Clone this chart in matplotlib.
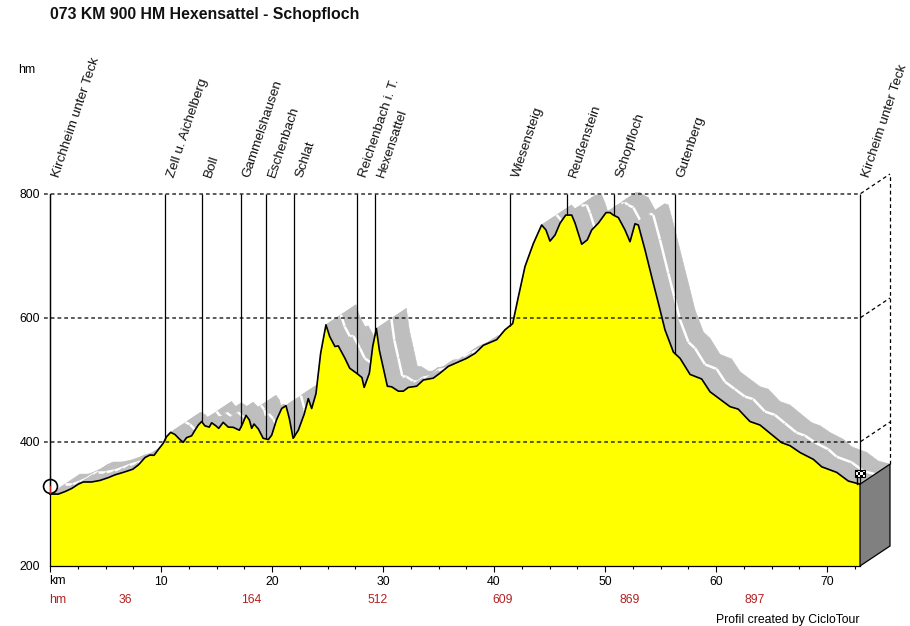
import numpy as np
import matplotlib
matplotlib.use('Agg')
import matplotlib.pyplot as plt
from matplotlib.patches import Polygon, Rectangle

plt.rcParams['font.family'] = ['Liberation Sans', 'DejaVu Sans']

# profile
km = [0.0, 0.75, 1.35, 1.95, 2.55, 3.0, 3.75, 4.5, 5.25, 5.85, 6.6, 7.45, 7.96, 8.56, 9.0, 9.37, 9.85, 10.2,
      10.5, 10.87, 11.26, 11.7, 12.0, 12.3, 12.76, 13.06, 13.36, 13.66, 13.96, 14.35, 14.56, 14.95, 15.2,
      15.6, 16.06, 16.5, 17.06, 17.36, 17.66, 17.96, 18.17, 18.38, 18.77, 19.2, 19.67, 19.97, 20.4, 20.87,
      21.26, 21.56, 21.9, 22.37, 22.9, 23.27, 23.57, 23.96, 24.38, 24.86, 25.2, 25.67, 25.97, 26.57, 27.0,
      27.69, 28.1, 28.3, 28.77, 29.07, 29.4, 29.67, 30.03, 30.39, 30.78, 31.38, 31.83, 32.28, 33.03, 33.63,
      34.53, 35.13, 35.88, 36.64, 37.54, 38.29, 39.04, 40.24, 40.99, 41.68, 42.19, 42.79, 43.54, 44.29,
      44.68, 45.04, 45.5, 45.95, 46.46, 47.0, 47.3, 47.9, 48.4, 48.8, 49.4, 50.09, 50.45, 50.75, 51.2, 51.8,
      52.25, 52.7, 53.0, 53.6, 54.35, 54.89, 55.4, 56.16, 56.76, 57.66, 58.71, 59.46, 60.36, 61.26, 62.0,
      63.06, 63.96, 64.87, 65.9, 66.67, 67.57, 68.77, 69.52, 70.87, 71.92, 72.97]
hm = [316, 316, 320, 325, 332, 335.5, 335.5, 338, 342.5, 347, 351, 356, 363, 375, 379, 378.5, 390, 398,
      408.6, 415.6, 412, 404, 399.5, 407, 410, 419, 427.4, 433, 426, 424, 431, 426, 422,
      431.7, 424, 423.7, 419, 430, 443, 435.5, 422, 429, 421, 406, 404, 411, 435.5, 454,
      458.6, 438, 406, 419, 445, 470, 454, 478, 543, 589, 570, 554, 555, 535, 519,
      510, 504, 488, 511, 554, 583, 548, 519, 490, 489, 482, 482, 488, 490, 500,
      503, 511, 522, 528, 535, 543, 556, 565, 581, 591, 634, 683, 720, 750,
      742, 724, 734, 753, 766, 766, 753, 719, 726, 742, 753, 770, 770, 766, 762, 742,
      723, 752, 750, 710, 656, 618, 581, 545, 535, 509, 501.6, 481, 469, 457, 453,
      433, 427.4, 414, 399, 394, 383, 372, 360, 351, 337, 332]

town_names = ['Kirchheim unter Teck', 'Zell u. Aichelberg', 'Boll', 'Gammelshausen', 'Eschenbach', 'Schlat',
              'Reichenbach i. T.', 'Hexensattel', 'Wiesensteig', 'Reußenstein', 'Schopfloch', 'Gutenberg',
              'Kircheim unter Teck']
town_km = [0, 10.36, 13.69, 17.2, 19.46, 21.98, 27.66, 29.28, 41.44, 46.58, 50.8, 56.3, 72.97]

climb_km = [6.8, 18.1, 29.5, 40.8, 52.2, 63.5]
climb_hm = ['36', '164', '512', '609', '869', '897']

grid_hm = [400, 600, 800]
y_ticks = [200, 400, 600, 800]
x_ticks = [0, 10, 20, 30, 40, 50, 60, 70]
x_tick_labels = ['', '10', '20', '30', '40', '50', '60', '70']

W, H = 910, 626
km = np.array(km)
hm = np.array(hm)
km_end = km[-1]

# depth of the fake 3d road, 30px right and 20px up
dx = 30 / 11.1
dy = 20 / 0.62

fig = plt.figure(figsize=(W / 100, H / 100), dpi=100)
ax = fig.add_axes([50 / W, (H - 566) / H, 810 / W, 372 / H])
ax.set_xlim(0, km_end)
ax.set_ylim(200, 800)

# road surface, painted from start to finish so later bits hide earlier ones
for i in range(len(km) - 1):
    quad = [(km[i], hm[i]), (km[i + 1], hm[i + 1]), (km[i + 1] + dx, hm[i + 1] + dy), (km[i] + dx, hm[i] + dy)]
    ax.add_patch(Polygon(quad, facecolor='#bebebe', edgecolor='#bebebe', lw=0.4, clip_on=False, zorder=1))
    ax.plot([km[i] + dx / 2, km[i + 1] + dx / 2], [hm[i] + dy / 2, hm[i + 1] + dy / 2],
            color='white', lw=1.8, clip_on=False, zorder=1, solid_capstyle='butt')

ax.fill_between(km, hm, 200, color='#ffff00', lw=0, zorder=2)

# dashed grid and its continuation on the back wall
for g in grid_hm:
    ax.plot([-6 / 11.1, km_end, km_end + dx], [g, g, g + dy], color='black', lw=0.9, ls=(0, (3, 2.4)),
            clip_on=False, zorder=3)
ax.plot([km_end + dx, km_end + dx], [hm[-1] + dy, 800 + dy], color='black', lw=0.9, ls=(0, (3, 2.4)),
        clip_on=False, zorder=3)

ax.vlines(town_km, np.interp(town_km, km, hm), 800, color='black', lw=0.9, zorder=3, clip_on=False)
ax.plot(km, hm, color='black', lw=1.2, zorder=4, clip_on=False)

# side wall at the end
wall = [(km_end, 200), (km_end, hm[-1]), (km_end + dx, hm[-1] + dy), (km_end + dx, 200 + dy)]
ax.add_patch(Polygon(wall, facecolor='#808080', edgecolor='black', lw=0.9, clip_on=False, zorder=3))

for name, k in zip(town_names, town_km):
    ax.annotate(name, (k, 800), xytext=(6, 17), textcoords='offset pixels', rotation=71.5,
                rotation_mode='anchor', ha='left', va='center', fontsize=9.7, color='#111111')

# start watch
ax.plot([0], [329], marker='o', ms=10, mfc='none', mec='black', mew=1.2, clip_on=False, zorder=5)
ax.plot([0, 0], [329, 345], color='black', lw=0.8, clip_on=False, zorder=5)
ax.plot([0, 0], [329, 318], color='#cc2222', lw=0.8, clip_on=False, zorder=6)

# finish flag
flag_w = 2.6 / 11.1
flag_h = 2.6 / 0.62
ax.plot([km_end - 0.3, km_end - 0.3], [hm[-1], hm[-1] + 20], color='black', lw=1, clip_on=False, zorder=5)
ax.add_patch(Rectangle((km_end - 0.45, hm[-1] + 11), 4 * flag_w, 3 * flag_h, facecolor='white', edgecolor='black',
                       lw=0.8, clip_on=False, zorder=5))
for col in range(4):
    for row in range(3):
        if (col + row) % 2 == 0:
            ax.add_patch(Rectangle((km_end - 0.45 + col * flag_w, hm[-1] + 11 + row * flag_h), flag_w, flag_h,
                                   facecolor='black', lw=0, clip_on=False, zorder=5))

for side in ['top', 'right']:
    ax.spines[side].set_visible(False)
for side in ['left', 'bottom']:
    ax.spines[side].set_linewidth(0.9)

ax.set_yticks(y_ticks)
ax.set_xticks(x_ticks)
ax.set_xticklabels(x_tick_labels)
ax.set_xticks(np.arange(2.5, km_end, 2.5), minor=True)
ax.tick_params(axis='x', which='major', length=4.5, width=0.8, labelsize=8.8, pad=3)
ax.tick_params(axis='x', which='minor', length=2.5, width=0.8)
ax.tick_params(axis='y', length=0, labelsize=8.8, pad=7)

fig.text(18 / W, 1 - 70 / H, 'hm', fontsize=8.8, va='center')
fig.text(49 / W, 1 - 581 / H, 'km', fontsize=8.8, ha='left', va='center')
fig.text(49 / W, 1 - 600 / H, 'hm', fontsize=8.8, ha='left', va='center', color='#b22222')
for k, v in zip(climb_km, climb_hm):
    ax.annotate(v, (k, 200), xytext=(0, -34), textcoords='offset pixels', ha='center', va='center',
                fontsize=8.8, color='#b22222')

fig.text(50 / W, 1 - 14 / H, '073 KM 900 HM Hexensattel - Schopfloch', fontsize=11.4, fontweight='bold',
         va='center', color='#111111')
fig.text(860 / W, 1 - 620 / H, 'Profil created by CicloTour', fontsize=8.8, ha='right', va='center')

fig.savefig('out.png', dpi=100, facecolor='white')
